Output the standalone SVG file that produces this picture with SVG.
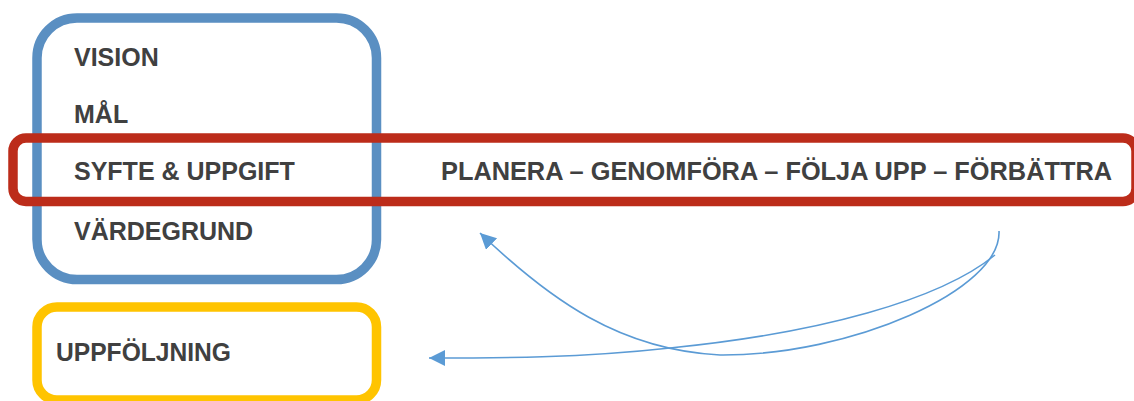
<svg xmlns="http://www.w3.org/2000/svg" width="1134" height="401" viewBox="0 0 1134 401">
<style>
.t{font-family:"Liberation Sans",Arial,sans-serif;font-weight:bold;font-size:25px;fill:#404040}
.box{fill:none}
.conn{fill:none;stroke:#5B9BD5;stroke-width:1.6}
</style>
<defs>
<marker id="ah" markerUnits="userSpaceOnUse" markerWidth="20" markerHeight="18" refX="16" refY="8" orient="auto">
<path d="M0,0 L16,8 L0,16 z" fill="#5B9BD5"/>
</marker>
</defs>
<rect width="1134" height="401" fill="#ffffff"/>
<g id="vision-box">
<rect class="box" x="37" y="18" width="339.5" height="261.5" rx="40" stroke="#5A8FC2" stroke-width="9.5"/>
<text class="t" x="74" y="66">VISION</text>
<text class="t" x="74" y="123">MÅL</text>
<text class="t" x="74" y="180">SYFTE &amp; UPPGIFT</text>
<text class="t" x="74" y="240">VÄRDEGRUND</text>
</g>
<g id="cycle-box">
<rect class="box" x="13" y="138" width="1123" height="63.5" rx="13" stroke="#BC2C1A" stroke-width="9.5"/>
<text class="t" x="441" y="180" textLength="671" lengthAdjust="spacingAndGlyphs">PLANERA – GENOMFÖRA – FÖLJA UPP – FÖRBÄTTRA</text>
</g>
<g id="uppfoljning-box">
<rect class="box" x="37" y="307" width="339.5" height="93" rx="20" stroke="#FFC400" stroke-width="9.5"/>
<text class="t" x="56" y="361" textLength="175" lengthAdjust="spacingAndGlyphs">UPPFÖLJNING</text>
</g>
<g id="connectors">
<path class="conn" d="M999,231 C1002,290 850,356 720,355 C620,350 550,300 480,233" marker-end="url(#ah)"/>
<path class="conn" d="M995,255 C940,300 820,333 670,348 C580,358 500,358 429,358" marker-end="url(#ah)"/>
</g>
</svg>
